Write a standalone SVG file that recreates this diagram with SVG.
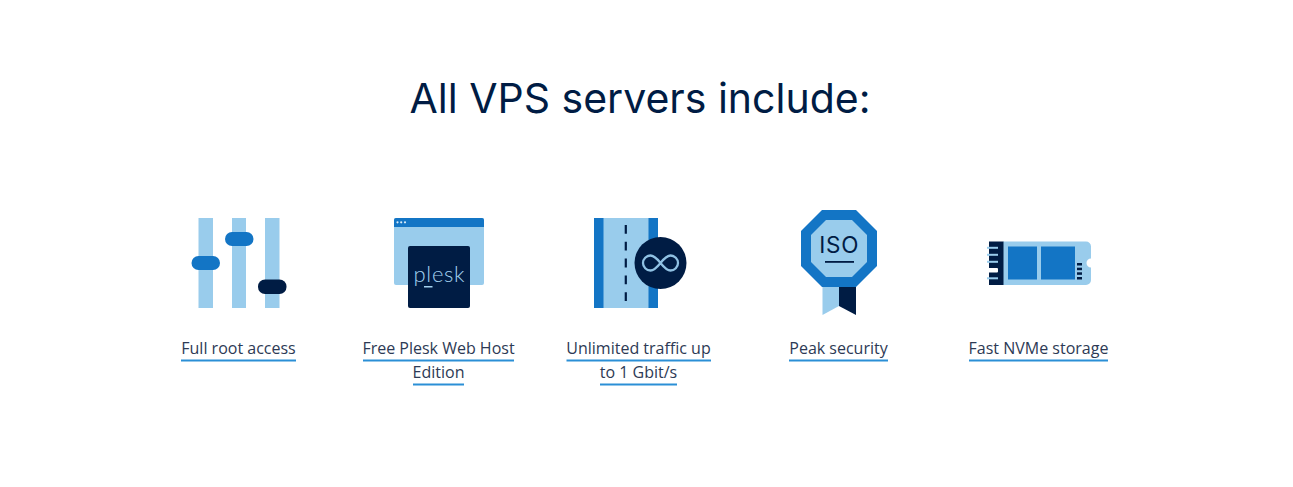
<svg xmlns="http://www.w3.org/2000/svg" width="1293" height="487" viewBox="0 0 1293 487">
<style>
.l{fill:#99ccec}.m{fill:#1375c5}.d{fill:#001c44}
.t{font-family:"Open Sans","Liberation Sans",sans-serif;font-size:16px;fill:#2d3a55;text-anchor:middle}
.u{fill:#2b8fd6}
</style>
<rect width="1293" height="487" fill="#fff"/>
<text id="title" x="640" y="113" text-anchor="middle" font-family="Inter,'Noto Sans',sans-serif" font-size="41" fill="#001c44">All VPS servers include:</text>
<g id="node-root">
<rect class="l" x="198.500" y="218" width="14.500" height="90"/>
<rect class="l" x="232" y="218" width="14" height="90"/>
<rect class="l" x="265" y="218" width="14.500" height="90"/>
<rect class="m" x="191.500" y="256" width="28.500" height="14" rx="7"/>
<rect class="m" x="225" y="232" width="28.500" height="14" rx="7"/>
<rect class="d" x="258" y="279.500" width="28.500" height="14.500" rx="7"/>
<text class="t" x="238.500" y="354">Full root access</text>
<rect class="u" x="181" y="359.500" width="115" height="2"/>
</g>
<g id="node-plesk">
<rect class="l" x="394" y="218" width="90" height="67" rx="2"/>
<path class="m" d="M394 227v-7a2 2 0 0 1 2-2h86a2 2 0 0 1 2 2v7z"/>
<circle cx="397.500" cy="222.300" r="1.100" fill="#dcedf8"/><circle cx="401.200" cy="222.300" r="1.100" fill="#dcedf8"/><circle cx="405" cy="222.300" r="1.100" fill="#dcedf8"/>
<rect class="d" x="408" y="246" width="62" height="62" rx="2"/>
<text x="413.500" y="282" font-family="Lato,'Open Sans',sans-serif" font-weight="300" font-size="22" letter-spacing="0.700" fill="#a3d1ef">plesk</text>
<rect x="424" y="286" width="8.500" height="1.500" fill="#a3d1ef"/>
<text class="t" x="438.500" y="354">Free Plesk Web Host</text>
<rect class="u" x="363" y="359.500" width="151" height="2"/>
<text class="t" x="438.500" y="378">Edition</text>
<rect class="u" x="413" y="383.500" width="51" height="2"/>
</g>
<g id="node-traffic">
<rect class="l" x="594" y="218" width="64" height="90"/>
<rect class="m" x="594" y="218" width="9.500" height="90"/>
<rect class="m" x="648.500" y="218" width="9.500" height="90"/>
<path d="M625.800 225V301" stroke="#001c44" stroke-width="2.200" fill="none" stroke-dasharray="8.800 8"/>
<circle class="d" cx="660.500" cy="263" r="26"/>
<path d="M660.500 263c-3-3.700-6-7.500-10-7.500a7.500 7.500 0 0 0 0 15c4 0 7-3.800 10-7.500s6-7.500 10-7.500a7.500 7.500 0 0 1 0 15c-4 0-7-3.800-10-7.500z" fill="none" stroke="#8fc1e3" stroke-width="2.300"/>
<text class="t" x="638.500" y="354">Unlimited traffic up</text>
<rect class="u" x="566.500" y="359.500" width="144.500" height="2"/>
<text class="t" x="638.500" y="378">to 1 Gbit/s</text>
<rect class="u" x="600" y="383.500" width="77" height="2"/>
</g>
<g id="node-security">
<polygon class="l" points="822.500,287 839,287 839,306 822.500,315"/>
<polygon class="d" points="839,287 856,287 856,315 839,306"/>
<polygon class="m" points="822,210 856,210 877,231 877,266 856,287 822,287 801,266 801,231"/>
<polygon class="l" points="826,220 852,220 867,235 867,262 852,277 826,277 811,262 811,235"/>
<text x="839.300" y="253" text-anchor="middle" font-family="Inter,'Noto Sans',sans-serif" font-size="22.500" letter-spacing="0.800" fill="#001c44">ISO</text>
<rect class="d" x="825" y="261" width="29" height="1.800"/>
<text class="t" x="838.500" y="354">Peak security</text>
<rect class="u" x="789" y="359.500" width="99" height="2"/>
</g>
<g id="node-nvme">
<path class="l" d="M1003 241.500H1086a5 5 0 0 1 5 5V258.500a4.500 4.500 0 0 0 0 9V280a5 5 0 0 1-5 5H1003z"/>
<rect class="d" x="989" y="241.500" width="14.500" height="43.500"/>
<rect class="m" x="1008" y="246.500" width="29" height="33"/>
<rect class="m" x="1041" y="246.500" width="34" height="33"/>
<g fill="#99ccec"><rect x="987" y="246.800" width="11" height="2"/><rect x="987" y="253.800" width="11" height="2"/><rect x="987" y="260.800" width="11" height="2"/><rect x="987" y="277.300" width="11" height="2"/></g>
<rect x="987" y="268" width="11" height="4.500" rx="1" fill="#fff"/>
<g class="d"><rect x="1077" y="263" width="5" height="2.500"/><rect x="1077" y="267.700" width="5" height="2.500"/><rect x="1077" y="272.300" width="5" height="2.500"/><rect x="1077" y="277" width="5" height="2.500"/></g>
<text class="t" x="1038.500" y="354">Fast NVMe storage</text>
<rect class="u" x="969" y="359.500" width="139" height="2"/>
</g>
<g id="connectors"/>
</svg>
